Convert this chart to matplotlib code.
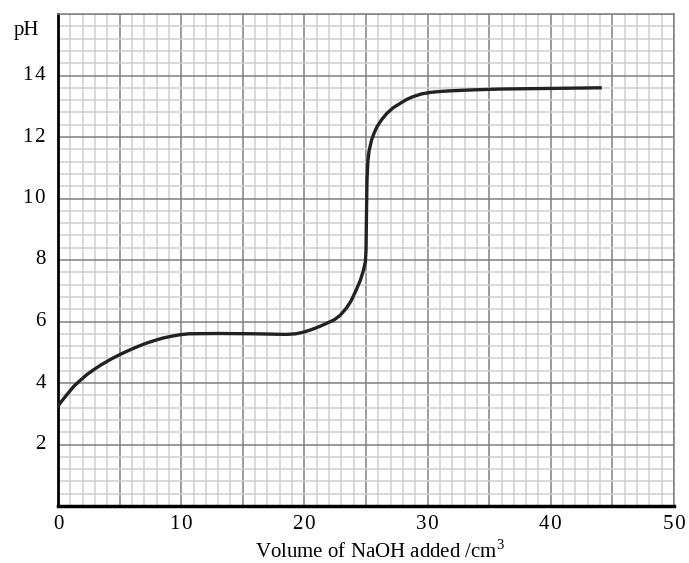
import matplotlib
matplotlib.use('Agg')
import matplotlib.pyplot as plt
from matplotlib.ticker import MultipleLocator

plt.rcParams['mathtext.fontset'] = 'custom'
plt.rcParams['mathtext.rm'] = 'Liberation Serif'

# titration curve
volume = [0, 0.4, 0.8, 1.3, 1.9, 2.4, 3.0, 3.5, 4.1, 4.6, 5.2, 5.8, 6.5, 7.2,
          7.9, 8.5, 9.2, 9.9, 10.6, 13.0, 16.0, 18.5, 19.3, 19.9, 20.6, 21.3,
          21.8, 22.4, 22.9, 23.4, 23.8, 24.2, 24.55, 24.8, 24.95, 25.0, 25.04,
          25.08, 25.15, 25.25, 25.45, 25.65, 25.9, 26.3, 26.7, 27.2, 27.8,
          28.3, 28.8, 29.5, 30.2, 31.0, 31.8, 33.5, 35.9, 40.0, 44.0]
ph = [3.25, 3.46, 3.66, 3.9, 4.12, 4.29, 4.46, 4.59, 4.73, 4.84, 4.96, 5.07,
      5.19, 5.3, 5.39, 5.46, 5.52, 5.57, 5.6, 5.61, 5.6, 5.58, 5.6, 5.65,
      5.74, 5.85, 5.94, 6.05, 6.2, 6.43, 6.68, 7.02, 7.35, 7.67, 7.95, 8.3,
      9.5, 10.6, 11.2, 11.55, 11.9, 12.12, 12.34, 12.58, 12.77, 12.95, 13.1,
      13.22, 13.31, 13.4, 13.45, 13.48, 13.5, 13.53, 13.56, 13.58, 13.6]
x_ticks = [0, 10, 20, 30, 40, 50]
y_ticks = [2, 4, 6, 8, 10, 12, 14]

SERIF = 'Liberation Serif'
MINOR = '#cfcfcf'
MAJOR = '#808080'

fig = plt.figure(figsize=(6.89, 5.63), dpi=100, facecolor='white')
ax = fig.add_axes([58 / 689, 1 - 506 / 563, 616 / 689, 492 / 563])
ax.set_xlim(0, 50)
ax.set_ylim(0, 16)

# graph paper grid
ax.xaxis.set_major_locator(MultipleLocator(5))
ax.xaxis.set_minor_locator(MultipleLocator(1))
ax.yaxis.set_major_locator(MultipleLocator(2))
ax.yaxis.set_minor_locator(MultipleLocator(0.4))
ax.grid(which='minor', color=MINOR, lw=1.1)
ax.grid(which='major', color=MAJOR, lw=1.1)
ax.set_axisbelow(True)
ax.tick_params(which='both', length=0)
ax.set_xticklabels([])
ax.set_yticklabels([])

ax.plot(volume, ph, color='#222222', lw=2.4, solid_joinstyle='round',
        zorder=3)

# spaced digits like the printed original
def spaced(v):
    return '\u200a'.join(str(v))

for v in x_ticks:
    ax.text(v, -0.3, spaced(v), ha='center', va='top', fontsize=15,
            family=SERIF)
for v in y_ticks:
    ax.text(-1.0, v, spaced(v), ha='right', va='center', fontsize=15,
            family=SERIF)
fig.text(26 / 689, 1 - 30 / 563, 'pH', ha='center', va='center',
         fontsize=15, family=SERIF)
fig.text(380 / 689, 1 - 551 / 563, r'Volume of NaOH added /cm$^{3}$',
         ha='center', va='center', fontsize=15, family=SERIF)

for s in ('top', 'right'):
    ax.spines[s].set_color(MAJOR)
    ax.spines[s].set_linewidth(1.1)
ax.spines['bottom'].set_color('black')
ax.spines['bottom'].set_linewidth(2.5)
ax.spines['left'].set_color('black')
ax.spines['left'].set_linewidth(2.0)

fig.savefig('out.png', dpi=100, facecolor='white')
